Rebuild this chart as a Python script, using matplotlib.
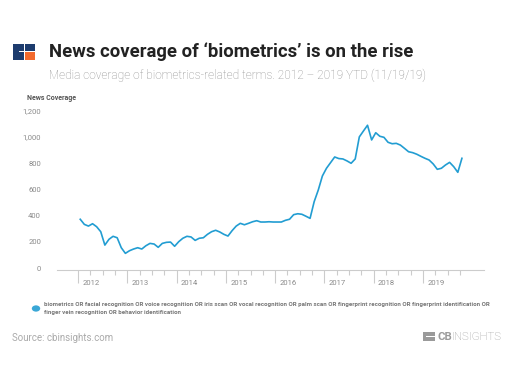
import matplotlib
matplotlib.use("Agg")
import matplotlib.pyplot as plt
import matplotlib.transforms as mtransforms
from matplotlib.patches import Rectangle, Circle
import numpy as np

plt.rcParams['font.family'] = ['Roboto', 'DejaVu Sans']

# monthly media coverage, Jan 2012 - Oct 2019
coverage = [
    372, 333, 320, 338, 315, 277, 175, 219, 242, 231, 155, 112,   # 2012
    132, 145, 155, 145, 170, 188, 183, 158, 188, 196, 198, 166,   # 2013
    201, 227, 242, 237, 211, 227, 231, 257, 277, 288, 275, 257,   # 2014
    244, 285, 320, 341, 330, 341, 353, 361, 351, 351, 353, 351,   # 2015
    351, 351, 364, 372, 407, 414, 410, 395, 379, 506, 595, 702,   # 2016
    761, 804, 847, 835, 832, 817, 799, 832, 1000, 1045, 1089, 977,  # 2017
    1032, 1005, 997, 959, 948, 951, 938, 913, 887, 880, 868, 852,  # 2018
    837, 824, 794, 753, 761, 786, 806, 773, 730, 837,             # 2019
]
start_year = 2012
years = list(range(2012, 2020))
yticks = [0, 200, 400, 600, 800, 1000, 1200]
ytick_labels = ['0', '200', '400', '600', '800', '1,000', '1,200']

title = "News coverage of \u2018biometrics\u2019 is on the rise"
subtitle = "Media coverage of biometrics-related terms. 2012 \u2013 2019 YTD (11/19/19)"
legend_text = ("biometrics OR facial recognition OR voice recognition OR iris scan OR vocal recognition OR palm scan "
               "OR fingerprint recognition OR fingerprint identification OR\n"
               "finger vein recognition OR behavior identification")

line_color = '#229dd2'
W, H = 512, 384

months = np.arange(len(coverage))
x = start_year + (months + 0.5) / 12.0

fig = plt.figure(figsize=(W / 100, H / 100), dpi=100)
ax = fig.add_axes([57 / W, 1 - 270 / H, 427 / W, (270 - 110.7) / H])
ax.plot(x, coverage, color=line_color, lw=1.2, solid_joinstyle='round')

ax.set_xlim(2011.57, 2020.24)
ax.set_ylim(-15, 1200)

for s in ['left', 'right', 'top']:
    ax.spines[s].set_visible(False)
ax.spines['bottom'].set_color('#cccccc')
ax.spines['bottom'].set_linewidth(0.8)

ax.set_yticks(yticks)
ax.set_yticklabels(ytick_labels)
ax.tick_params(axis='y', length=0, pad=11.5, labelsize=5.5, labelcolor='#8a8a8a')

ax.set_xticks(years)
ax.set_xticklabels([''] * len(years))
ax.set_xticks([y + q / 4 for y in years for q in (1, 2, 3)], minor=True)
ax.tick_params(axis='x', which='major', length=9.5, width=0.8, color='#cccccc')
ax.tick_params(axis='x', which='minor', length=3.6, width=0.8, color='#cccccc')

trans = mtransforms.blended_transform_factory(ax.transData, fig.transFigure)
for yr in years:
    ax.text(yr + 0.26, 1 - 283 / H, str(yr), transform=trans, ha='center', va='center',
            fontsize=5.5, color='#8a8a8a')

fig.text(27 / W, 1 - 98 / H, "News Coverage", fontsize=5, fontweight='bold',
         color='#555555', ha='left', va='center')

# title block
fig.text(49 / W, 1 - 52 / H, title, fontsize=13.3, fontweight='bold', color='#222222',
         ha='left', va='center')
fig.text(49 / W, 1 - 75 / H, subtitle, fontsize=8.6, fontweight='light', color='#8c8c8c',
         ha='left', va='center')

# CB logo, top left
def px_rect(x0, y0, x1, y1, color):
    fig.patches.append(Rectangle((x0 / W, 1 - y1 / H), (x1 - x0) / W, (y1 - y0) / H,
                                 transform=fig.transFigure, color=color, lw=0))

navy = '#1d3c6e'
orange = '#f26a2e'
px_rect(13, 44, 23.8, 59.5, navy)
px_rect(19, 51, 23.8, 52.4, 'white')
px_rect(24.6, 44, 35, 51, navy)
px_rect(24.6, 52.4, 35, 59.5, orange)

# legend
fig.patches.append(Circle((36 / W, 1 - 308.5 / H), 4.2 / W, transform=fig.transFigure,
                          color='#3aa7d6', lw=0))
fig.text(44 / W, 1 - 308.5 / H, legend_text, fontsize=4.4, fontweight='bold', color='#777777',
         ha='left', va='center', linespacing=1.75)

fig.text(12 / W, 1 - 338 / H, "Source: cbinsights.com", fontsize=7, color='#aaaaaa',
         ha='left', va='center')

# CB Insights logo, bottom right
gray = '#9a9a9a'
px_rect(423, 332, 428.5, 341, gray)
px_rect(426, 336, 428.5, 337.2, 'white')
px_rect(429.3, 332, 434.5, 336, gray)
px_rect(429.3, 337.2, 434.5, 341, gray)
t = fig.text(437 / W, 1 - 336.5 / H, "CB", fontsize=8.2, fontweight='bold', color=gray,
             ha='left', va='center')
fig.canvas.draw()
bb = t.get_window_extent()
fig.text(bb.x1 / W, 1 - 336.5 / H, "INSIGHTS", fontsize=8.2, fontweight='light', color=gray,
         ha='left', va='center')

fig.savefig("out.png", dpi=100)
